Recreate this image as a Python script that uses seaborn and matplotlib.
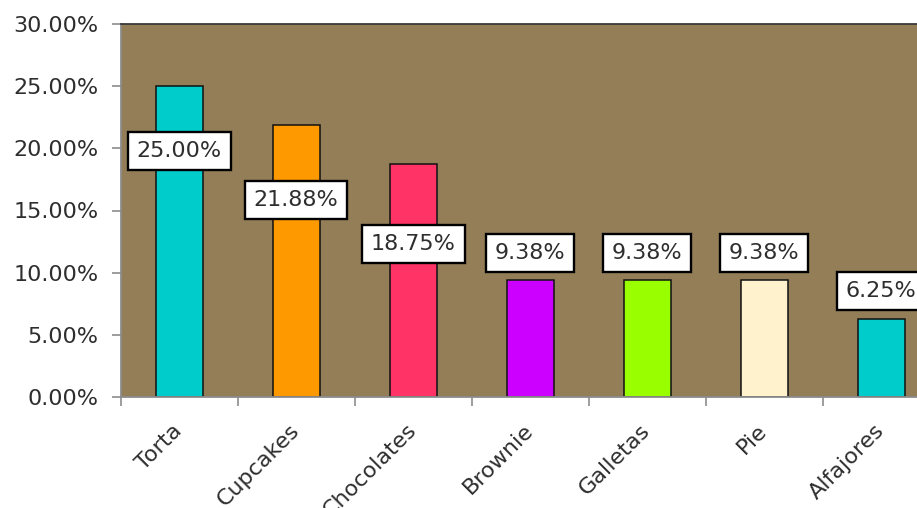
import matplotlib
matplotlib.use("Agg")
import matplotlib.pyplot as plt
from matplotlib.ticker import FixedLocator, FuncFormatter
import seaborn as sns
import pandas as pd

# Share of preference per dessert (%)
categories = ["Torta", "Cupcakes", "Chocolates", "Brownie", "Galletas", "Pie", "Alfajores"]
shares = [25.00, 21.88, 18.75, 9.38, 9.38, 9.38, 6.25]
bar_colors = ["#00CCCC", "#FF9900", "#FF3366", "#CC00FF", "#99FF00", "#FFF2CC", "#00CCCC"]
y_ticks = [0, 5, 10, 15, 20, 25, 30]

# vertical placement of each value box relative to its bar top (points)
label_offsets = [-46.6, -53.7, -57.4, 19.9, 19.9, 19.9, 20.0]

df = pd.DataFrame({"category": categories, "share": shares})

sns.set_theme(style="white")
plt.rcParams["font.family"] = ["DejaVu Sans"]

W, H = 917, 508
fig = plt.figure(figsize=(W / 100, H / 100), dpi=100)
left, right, top, bottom = 120.7, 939.7, 24.3, 396.7
ax = fig.add_axes([left / W, 1 - bottom / H, (right - left) / W, (bottom - top) / H])
ax.set_facecolor("#937E58")

sns.barplot(data=df, x="category", y="share", hue="category", palette=bar_colors,
            width=0.4, edgecolor="#111111", linewidth=1.1, legend=False, ax=ax,
            saturation=1.0)

ax.set_xlim(-0.5, len(categories) - 0.5)
ax.set_ylim(0, 30)
ax.set_xlabel("")
ax.set_ylabel("")

fs = 16
text_color = "#2E2E2E"
ax.yaxis.set_major_locator(FixedLocator(y_ticks))
ax.yaxis.set_major_formatter(FuncFormatter(lambda v, _: f"{v:.2f}%"))
ax.tick_params(axis="y", direction="out", length=6.5, width=1.2, color="#8C8C8C",
               pad=9.5, labelsize=fs, labelcolor=text_color, left=True)

# category labels centred under bars, tick marks on category boundaries
ax.set_xticks(range(len(categories)))
ax.set_xticklabels(categories, rotation=45, ha="right", va="center",
                   rotation_mode="anchor", fontsize=fs, color=text_color)
ax.tick_params(axis="x", which="major", length=0, pad=22)
ax.set_xticks([i - 0.5 for i in range(len(categories) + 1)], minor=True)
ax.tick_params(axis="x", which="minor", direction="out", length=6.5, width=1.2,
               color="#8C8C8C", bottom=True)

for side in ["left", "bottom"]:
    ax.spines[side].set_color("#8C8C8C")
    ax.spines[side].set_linewidth(1.3)
ax.spines["top"].set_color("#3A3A3A")
ax.spines["top"].set_linewidth(1.3)
ax.spines["right"].set_visible(False)

for i, (v, off) in enumerate(zip(shares, label_offsets)):
    ax.annotate(f"{v:.2f}%", xy=(i, v), xytext=(0, off), textcoords="offset points",
                ha="center", va="center", fontsize=fs, color=text_color,
                bbox=dict(boxstyle="square,pad=0.4", facecolor="white",
                          edgecolor="black", linewidth=1.7),
                annotation_clip=False)

fig.savefig("out.png", dpi=100)
